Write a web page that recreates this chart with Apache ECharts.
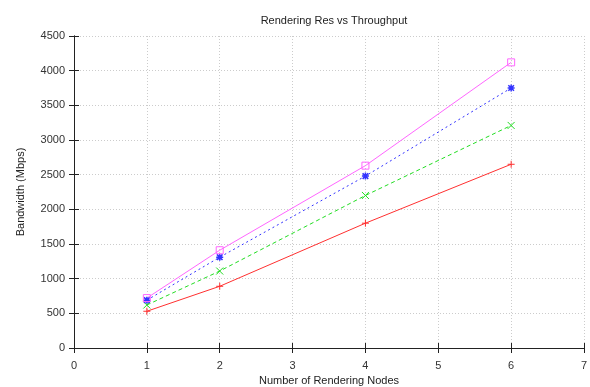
<!DOCTYPE html>
<html>
<head>
<meta charset="utf-8">
<script src="https://cdn.jsdelivr.net/npm/echarts@6/dist/echarts.min.js"></script>
<style>
  html, body { margin: 0; padding: 0; background: #fff; }
  #chart { width: 590px; height: 387px; }
</style>
</head>
<body>
<div id="chart"></div>
<script>
// nodes on the x axis
var nodes = [1, 2, 4, 6];
// bandwidth (Mbps) for each curve
var redVals = [530, 890, 1800, 2650];
var greenVals = [620, 1110, 2200, 3210];
var blueVals = [690, 1310, 2480, 3750];
var magentaVals = [720, 1410, 2630, 4120];

var fontFam = 'Liberation Sans, Arial, sans-serif';

function pairs(vals) {
    var out = [];
    for (var i = 0; i < nodes.length; i++) {
        out.push([nodes[i], vals[i]]);
    }
    return out;
}

function makeSeries(vals, color, lineType, symbol, size, bw) {
    return {
        type: 'line',
        data: pairs(vals),
        symbol: symbol,
        symbolSize: size,
        showAllSymbol: true,
        lineStyle: { color: color, width: 1, type: lineType },
        itemStyle: { color: 'none', borderColor: color, borderWidth: bw },
        emphasis: { disabled: true },
        animation: false,
        z: 3
    };
}

var plusPath = 'path://M0,5L10,5M5,0L5,10';
var crossPath = 'path://M0,0L10,10M10,0L0,10';
var starPath = 'path://M0,5L10,5M5,0L5,10M1,1L9,9M9,1L1,9';

var axisLine = { show: true, lineStyle: { color: '#222', width: 1 } };
var tickIn = { show: true, inside: true, length: 5, lineStyle: { color: '#222' } };
var gridLine = { show: true, lineStyle: { color: '#ccc', type: [1, 2], width: 1 } };

var chart = echarts.init(document.getElementById('chart'));
chart.setOption({
    backgroundColor: '#fff',
    title: {
        text: 'Rendering Res vs Throughput',
        left: 329, top: 10, textAlign: 'center',
        textStyle: { fontSize: 11, fontWeight: 'normal', color: '#222', fontFamily: fontFam }
    },
    grid: { left: 74, right: 6, top: 36, bottom: 39, containLabel: false, outerBoundsMode: 'none' },
    xAxis: [{
        type: 'value', min: 0, max: 7, interval: 1, position: 'bottom',
        name: 'Number of Rendering Nodes', nameLocation: 'middle', nameGap: 26,
        nameTextStyle: { fontSize: 11, color: '#222', fontFamily: fontFam },
        axisLine: axisLine, axisTick: tickIn, splitLine: gridLine,
        axisLabel: { color: '#333', fontSize: 11, fontFamily: fontFam, margin: 12 }
    }, {
        type: 'value', min: 0, max: 7, interval: 1, position: 'top',
        axisLine: axisLine, axisTick: tickIn, splitLine: { show: false },
        axisLabel: { show: false }
    }],
    yAxis: [{
        type: 'value', min: 0, max: 4500, interval: 500, position: 'left',
        name: 'Bandwidth (Mbps)', nameLocation: 'middle', nameGap: 48,
        nameTextStyle: { fontSize: 11, color: '#222', fontFamily: fontFam },
        axisLine: axisLine, axisTick: tickIn, splitLine: gridLine,
        axisLabel: {
            color: '#333', fontSize: 11, fontFamily: fontFam, margin: 9,
            formatter: function (v) { return String(v); }
        }
    }, {
        type: 'value', min: 0, max: 4500, interval: 500, position: 'right',
        axisLine: axisLine, axisTick: tickIn, splitLine: { show: false },
        axisLabel: { show: false }
    }],
    series: [
        makeSeries(redVals, '#ff3030', 'solid', plusPath, 7, 1),
        makeSeries(greenVals, '#22dd22', [4, 3], crossPath, 7, 1),
        makeSeries(blueVals, '#3333ff', [2, 3], starPath, 7, 1.5),
        makeSeries(magentaVals, '#ff66ff', 'solid', 'rect', 7, 1)
    ]
});
</script>
</body>
</html>
